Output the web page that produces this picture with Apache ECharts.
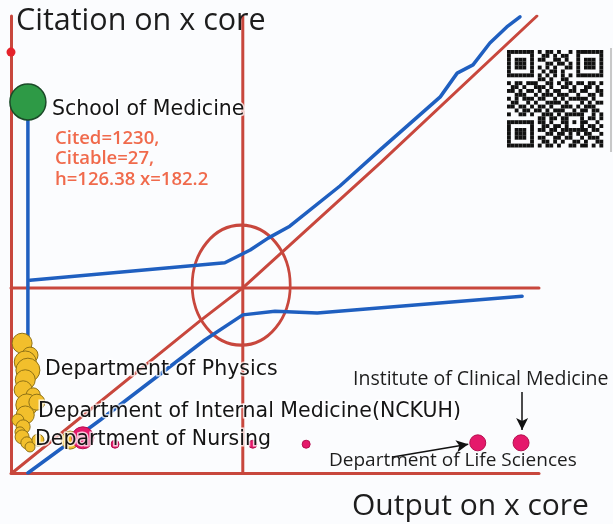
<!DOCTYPE html>
<html>
<head>
<meta charset="utf-8">
<script src="https://cdn.jsdelivr.net/npm/echarts@6/dist/echarts.min.js"></script>
<style>
  html, body { margin: 0; padding: 0; background: #fbfcfe; }
  #main { width: 613px; height: 524px; }
</style>
</head>
<body>
<div id="main"></div>
<script>
// normalised output (x) / citation (y) space, 0..100 on both axes
var centreX = 43.9, centreY = 40.5;

var diagonal = [[0.2, 0], [35.8, 33.3], [43.9, 40.5], [69.9, 67.8], [99.6, 100]];
var upperTrend = [[3.6, 42.2], [40.5, 46.0], [45.3, 48.8], [48.7, 51.4], [52.8, 54.0], [62.3, 62.8],
                  [69.9, 70.7], [81.3, 82.3], [84.5, 87.5], [87.5, 89.3], [90.7, 94.1], [93.9, 97.6], [96.4, 99.8]];
var lowerTrend = [[3.2, 0], [16.9, 11.6], [36.7, 29.1], [43.9, 34.6], [50.0, 35.4], [58.0, 35.0], [96.8, 38.7]];
var medicineStem = [[3.2, 81.2], [3.2, 28.0]];

// [output, citation, weight]
var schoolMedicine = [[3.2, 81.2, 36]];
var topMarker = [[0, 92.1, 9]];
var departments = [
  [2.1, 28.4, 20], [3.6, 25.8, 16], [2.7, 24.3, 22], [3.2, 22.5, 24], [2.7, 20.4, 20],
  [2.3, 18.2, 18], [4.2, 17.1, 14], [3.0, 14.9, 22], [4.9, 15.5, 16], [2.7, 12.7, 18],
  [1.3, 11.6, 12], [2.3, 10.1, 14], [1.7, 9.0, 10], [2.1, 7.9, 14], [3.0, 6.6, 12],
  [5.1, 7.2, 12], [3.6, 5.7, 10], [11.2, 7.2, 18]
];
var institutes = [[13.6, 7.7, 22], [19.7, 6.3, 8], [45.8, 6.3, 8], [55.9, 6.3, 8], [88.4, 6.6, 16], [96.6, 6.6, 16]];

var arrows = [
  [[96.8, 17.7], [96.8, 9.4]],
  [[72.3, 3.5], [86.6, 6.3]]
];

var qrRows = [
  '1111111010110100101111111',
  '1000001001101011001000001',
  '1011101011001101001011101',
  '1011101000110110101011101',
  '1011101010101001101011101',
  '1000001001011010001000001',
  '1111111010101010101111111',
  '0000000011010011000000000',
  '1011011100110101101101101',
  '0110100111010011010011010',
  '1101011010101100110110011',
  '0011100101110111001001101',
  '1010111011001010111110100',
  '0110010100111101000101011',
  '1101101011010011101011100',
  '0010110110101110010110110',
  '1001101001110101111100101',
  '0000000011011011000101101',
  '1111111011010011010110010',
  '1000001001101101000101101',
  '1011101011011011111110110',
  '1011101000110110101011001',
  '1011101011001101100101110',
  '1000001001101010011010011',
  '1111111010110100110110101'
];

var RED = '#c8473d', BLUE = '#1f5fc0';

var qr = [];
qrRows.forEach(function (row, r) {
  for (var c = 0; c < row.length; c++) {
    if (row[c] === '1') {
      qr.push({ type: 'rect', shape: { x: 507 + c * 3.85, y: 50 + r * 3.9, width: 3.85, height: 3.9 }, style: { fill: '#111' } });
    }
  }
});

function lineSeries(data, color, width, z) {
  return { type: 'line', data: data, symbol: 'none', silent: true, z: z,
           lineStyle: { color: color, width: width, cap: 'round', join: 'round' } };
}

function bubbles(data, fill, border, bw) {
  return { type: 'scatter', data: data, z: 5,
           symbolSize: function (v) { return v[2]; },
           itemStyle: { color: fill, borderColor: border, borderWidth: bw, opacity: 1 } };
}

var darkLabel = { fill: '#151515', font: '20.5px "DejaVu Sans"', textVerticalAlign: 'middle',
                  stroke: 'rgba(255,255,255,0.75)', lineWidth: 3 };

function label(text, x, y, style) {
  return { type: 'text', x: x, y: y, z: 100, style: Object.assign({ text: text }, style) };
}

var myChart = echarts.init(document.getElementById('main'));
var option = {
  backgroundColor: '#fbfcfe',
  animation: false,
  grid: { left: 11, top: 16, width: 528, height: 457 },
  xAxis: {
    type: 'value', min: 0, max: 100,
    axisLine: { lineStyle: { color: RED, width: 3 } },
    axisTick: { show: false }, axisLabel: { show: false }, splitLine: { show: false }
  },
  yAxis: {
    type: 'value', min: 0, max: 100,
    axisLine: { show: true, lineStyle: { color: RED, width: 3 } },
    axisTick: { show: false }, axisLabel: { show: false }, splitLine: { show: false }
  },
  series: [
    lineSeries([[centreX, 0], [centreX, 100]], RED, 3, 2),
    lineSeries([[0, centreY], [100, centreY]], RED, 3, 2),
    lineSeries(diagonal, RED, 3, 2),
    {
      type: 'scatter', data: [[43.6, 41.1]], symbol: 'circle', symbolSize: [98, 120], z: 2, silent: true,
      itemStyle: { color: 'rgba(0,0,0,0)', borderColor: RED, borderWidth: 3, opacity: 1 }
    },
    lineSeries(medicineStem, BLUE, 3.5, 3),
    lineSeries(upperTrend, BLUE, 3.5, 3),
    lineSeries(lowerTrend, BLUE, 3.5, 3),
    {
      type: 'line', data: [], z: 4,
      markLine: {
        silent: true, symbol: ['none', 'arrow'], symbolSize: [9, 12],
        label: { show: false },
        lineStyle: { color: '#111', width: 1.5, type: 'solid' },
        data: arrows.map(function (a) { return [{ coord: a[0] }, { coord: a[1] }]; })
      }
    },
    bubbles(topMarker, '#e5232b', '#e5232b', 0),
    bubbles(departments, '#f2bf2c', '#8f7216', 1),
    bubbles(institutes, '#e5196b', '#b5104f', 1),
    bubbles(schoolMedicine, '#2e9a46', '#1b4a28', 1.5)
  ],
  graphic: [
    { type: 'group', children: qr },
    { type: 'line', shape: { x1: 611, y1: 48, x2: 611, y2: 152 }, style: { stroke: '#c8c8c8', lineWidth: 2 } },
    label('Citation on x core', 16, 21, { fill: '#1d1d1d', font: '30.5px "Open Sans"', textVerticalAlign: 'middle' }),
    label('Output on x core', 352, 506, { fill: '#1d1d1d', font: '30px "Open Sans"', textVerticalAlign: 'middle' }),
    label('School of Medicine', 52, 110, darkLabel),
    label('Cited=1230,\nCitable=27,\nh=126.38 x=182.2', 55, 159,
          { fill: '#f06a4c', font: '600 18.5px "Open Sans"', lineHeight: 20.5, textVerticalAlign: 'middle' }),
    label('Department of Physics', 45, 370, darkLabel),
    label('Department of Internal Medicine(NCKUH)', 38, 412, darkLabel),
    label('Department of Nursing', 35, 440, darkLabel),
    label('Institute of Clinical Medicine', 353, 379, { fill: '#1d1d1d', font: '19.5px "Open Sans"', textVerticalAlign: 'middle' }),
    label('Department of Life Sciences', 329, 461, { fill: '#1d1d1d', font: '19px "Open Sans"', textVerticalAlign: 'middle' })
  ]
};
myChart.setOption(option);
</script>
</body>
</html>
